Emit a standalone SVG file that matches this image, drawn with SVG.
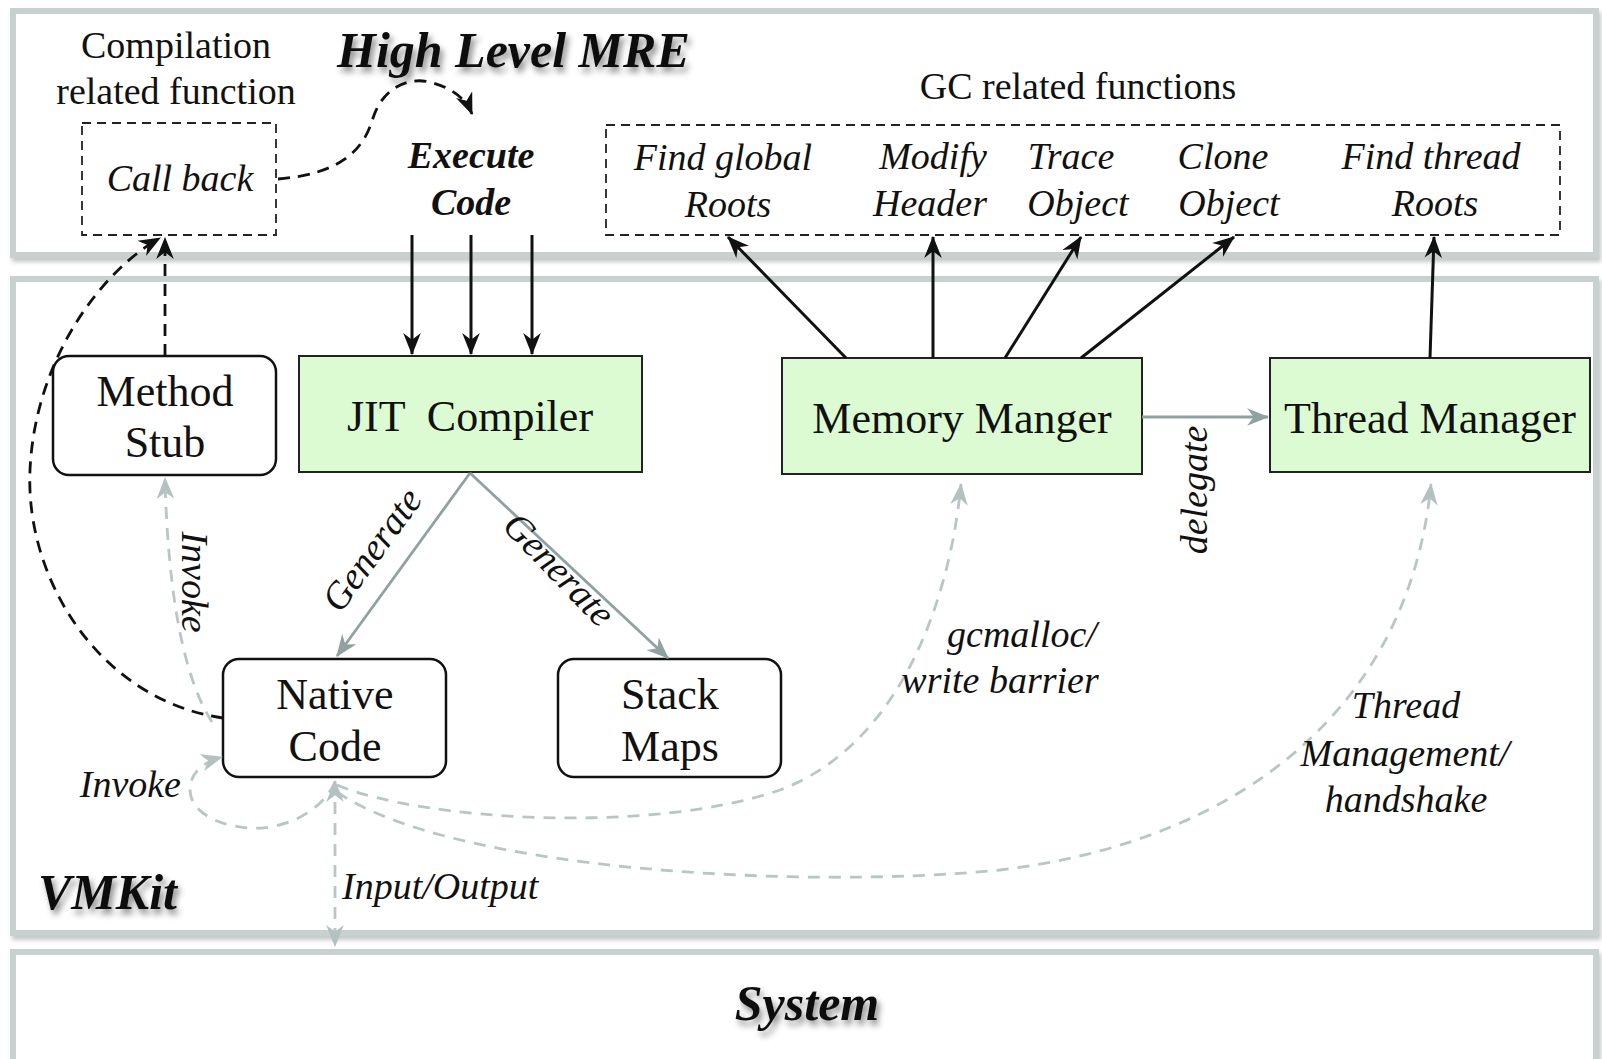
<svg xmlns="http://www.w3.org/2000/svg" width="1602" height="1059" viewBox="0 0 1602 1059">
<defs>
<style>
.panel{fill:#ffffff;stroke:#c9d0d0;stroke-width:6;filter:url(#pshadow)}
.t{font-family:"Liberation Serif","Times New Roman",serif;fill:#111}
.reg{font-size:38px}
.box{font-size:44px}
.it{font-style:italic;font-size:38px}
.bi{font-style:italic;font-weight:bold;font-size:38px}
.title{font-style:italic;font-weight:bold;font-size:50px;filter:url(#tshadow)}
.green{fill:#ddfbd3;stroke:#222;stroke-width:2}
.round{fill:#fff;stroke:#111;stroke-width:2.5}
.dbox{fill:none;stroke:#222;stroke-width:1.8;stroke-dasharray:9 6}
.blk{fill:none;stroke:#111;stroke-width:3;marker-end:url(#ab)}
.blkd{fill:none;stroke:#111;stroke-width:2.8;stroke-dasharray:12 8;marker-end:url(#ab)}
.gry{fill:none;stroke:#8fa1a1;stroke-width:2.8;marker-end:url(#ag)}
.lgd{fill:none;stroke:#bac6c6;stroke-width:2.8;stroke-dasharray:12 9}
</style>
<filter id="pshadow" x="-5%" y="-5%" width="110%" height="115%">
<feDropShadow dx="2" dy="4" stdDeviation="2" flood-color="#8a9090" flood-opacity="0.5"/>
</filter>
<filter id="tshadow" x="-20%" y="-30%" width="140%" height="170%">
<feDropShadow dx="3" dy="5" stdDeviation="3" flood-color="#000" flood-opacity="0.45"/>
</filter>
<marker id="ab" viewBox="0 0 20 16" refX="19" refY="8" markerWidth="22" markerHeight="18" orient="auto" markerUnits="userSpaceOnUse">
<path d="M0,0 L20,8 L0,16 L6,8 z" fill="#111"/>
</marker>
<marker id="ag" viewBox="0 0 20 16" refX="19" refY="8" markerWidth="22" markerHeight="18" orient="auto" markerUnits="userSpaceOnUse">
<path d="M0,0 L20,8 L0,16 L6,8 z" fill="#8fa1a1"/>
</marker>
<marker id="al" viewBox="0 0 20 16" refX="19" refY="8" markerWidth="22" markerHeight="18" orient="auto" markerUnits="userSpaceOnUse">
<path d="M0,0 L20,8 L0,16 L6,8 z" fill="#b4c1c1"/>
</marker>
<marker id="alr" viewBox="0 0 20 16" refX="1" refY="8" markerWidth="22" markerHeight="18" orient="auto" markerUnits="userSpaceOnUse">
<path d="M20,0 L0,8 L20,16 L14,8 z" fill="#b4c1c1"/>
</marker>
</defs>

<rect width="1602" height="1059" fill="#ffffff"/>

<!-- panels -->
<g id="panel-mre">
<rect class="panel" x="13" y="11" width="1583" height="244"/>
<text class="t title" x="337" y="67">High Level MRE</text>
<text class="t reg" x="176" y="58" text-anchor="middle">Compilation</text>
<text class="t reg" x="176" y="104" text-anchor="middle">related function</text>
<text class="t reg" x="1078" y="99" text-anchor="middle">GC related functions</text>
</g>
<g id="panel-vmkit">
<rect class="panel" x="13" y="279" width="1583" height="654"/>
<text class="t title" x="38" y="909">VMKit</text>
</g>
<g id="panel-system">
<rect class="panel" x="13" y="952" width="1583" height="120"/>
<text class="t title" x="807" y="1020" text-anchor="middle">System</text>
</g>

<!-- nodes -->
<g id="callback">
<rect class="dbox" x="82" y="123" width="194" height="112"/>
<text class="t it" x="180" y="191" text-anchor="middle">Call back</text>
</g>
<g id="execute">
<text class="t bi" x="471" y="168" text-anchor="middle">Execute</text>
<text class="t bi" x="471" y="215" text-anchor="middle">Code</text>
</g>
<g id="gc-functions">
<rect class="dbox" x="606" y="125" width="954" height="110"/>
<text class="t it" x="723" y="170" text-anchor="middle">Find global</text>
<text class="t it" x="728" y="217" text-anchor="middle">Roots</text>
<text class="t it" x="933" y="169" text-anchor="middle">Modify</text>
<text class="t it" x="930" y="216" text-anchor="middle">Header</text>
<text class="t it" x="1071" y="169" text-anchor="middle">Trace</text>
<text class="t it" x="1078" y="216" text-anchor="middle">Object</text>
<text class="t it" x="1223" y="169" text-anchor="middle">Clone</text>
<text class="t it" x="1229" y="216" text-anchor="middle">Object</text>
<text class="t it" x="1431" y="169" text-anchor="middle">Find thread</text>
<text class="t it" x="1435" y="216" text-anchor="middle">Roots</text>
</g>
<g id="method-stub">
<rect class="round" x="53" y="356" width="223" height="119" rx="16"/>
<text class="t box" x="165" y="406" text-anchor="middle">Method</text>
<text class="t box" x="165" y="457" text-anchor="middle">Stub</text>
</g>
<g id="jit">
<rect class="green" x="299" y="356" width="343" height="116"/>
<text class="t box" x="470" y="431" text-anchor="middle" xml:space="preserve">JIT  Compiler</text>
</g>
<g id="memory">
<rect class="green" x="782" y="358" width="360" height="116"/>
<text class="t box" x="962" y="433" text-anchor="middle">Memory Manger</text>
</g>
<g id="thread">
<rect class="green" x="1270" y="358" width="320" height="114"/>
<text class="t box" x="1430" y="433" text-anchor="middle">Thread Manager</text>
</g>
<g id="native">
<rect class="round" x="223" y="659" width="223" height="118" rx="16"/>
<text class="t box" x="335" y="709" text-anchor="middle">Native</text>
<text class="t box" x="335" y="761" text-anchor="middle">Code</text>
</g>
<g id="stackmaps">
<rect class="round" x="558" y="659" width="223" height="118" rx="16"/>
<text class="t box" x="670" y="709" text-anchor="middle">Stack</text>
<text class="t box" x="670" y="761" text-anchor="middle">Maps</text>
</g>

<!-- connectors -->
<g id="connectors">
<path class="blkd" d="M278,179 C337,174 363,153 373,118 C383,87 409,77 429,82 C450,87 465,97 472,114"/>
<path class="blk" d="M412,235 L412,354"/>
<path class="blk" d="M471,235 L471,354"/>
<path class="blk" d="M532,235 L532,354"/>
<path class="blk" d="M846,358 L728,237"/>
<path class="blk" d="M933,358 L933,237"/>
<path class="blk" d="M1005,358 L1081,237"/>
<path class="blk" d="M1081,358 L1234,237"/>
<path class="blk" d="M1430,358 L1434,237"/>
<path class="blkd" d="M165,356 L165,238"/>
<path class="blkd" d="M223,718 C100,700 25,580 30,470 C35,360 100,272 160,238"/>
<path class="gry" d="M470,473 L337,656"/>
<path class="gry" d="M470,473 L668,658"/>
<path class="gry" d="M1142,417 L1268,417"/>
<path class="lgd" marker-end="url(#al)" d="M212,722 C185,680 168,600 165,478"/>
<path class="lgd" marker-end="url(#al)" d="M335,782 C320,815 280,830 250,828 C215,826 190,810 190,790 C190,772 204,762 222,757"/>
<path class="lgd" marker-end="url(#al)" d="M337,785 C420,820 650,835 780,790 C900,745 950,600 961,484"/>
<path class="lgd" marker-end="url(#al)" d="M337,792 C450,870 800,890 1000,870 C1250,840 1410,700 1431,484"/>
<path class="lgd" marker-start="url(#alr)" marker-end="url(#al)" d="M335,781 L335,946"/>
<text class="t it" font-size="36" transform="translate(382,557) rotate(-54)" text-anchor="middle">Generate</text>
<text class="t it" font-size="36" transform="translate(550,578) rotate(46)" text-anchor="middle">Generate</text>
<text class="t it" font-size="36" transform="translate(182,582) rotate(90)" text-anchor="middle">Invoke</text>
<text class="t it" x="181" y="797" text-anchor="end">Invoke</text>
<text class="t it" x="1022" y="647" text-anchor="middle">gcmalloc/</text>
<text class="t it" x="1000" y="693" text-anchor="middle">write barrier</text>
<text class="t it" x="1406" y="718" text-anchor="middle">Thread</text>
<text class="t it" x="1405" y="766" text-anchor="middle">Management/</text>
<text class="t it" x="1406" y="812" text-anchor="middle">handshake</text>
<text class="t it" x="342" y="899">Input/Output</text>
<text class="t it" font-size="36" transform="translate(1207,490) rotate(-90)" text-anchor="middle">delegate</text>
</g>
</svg>
